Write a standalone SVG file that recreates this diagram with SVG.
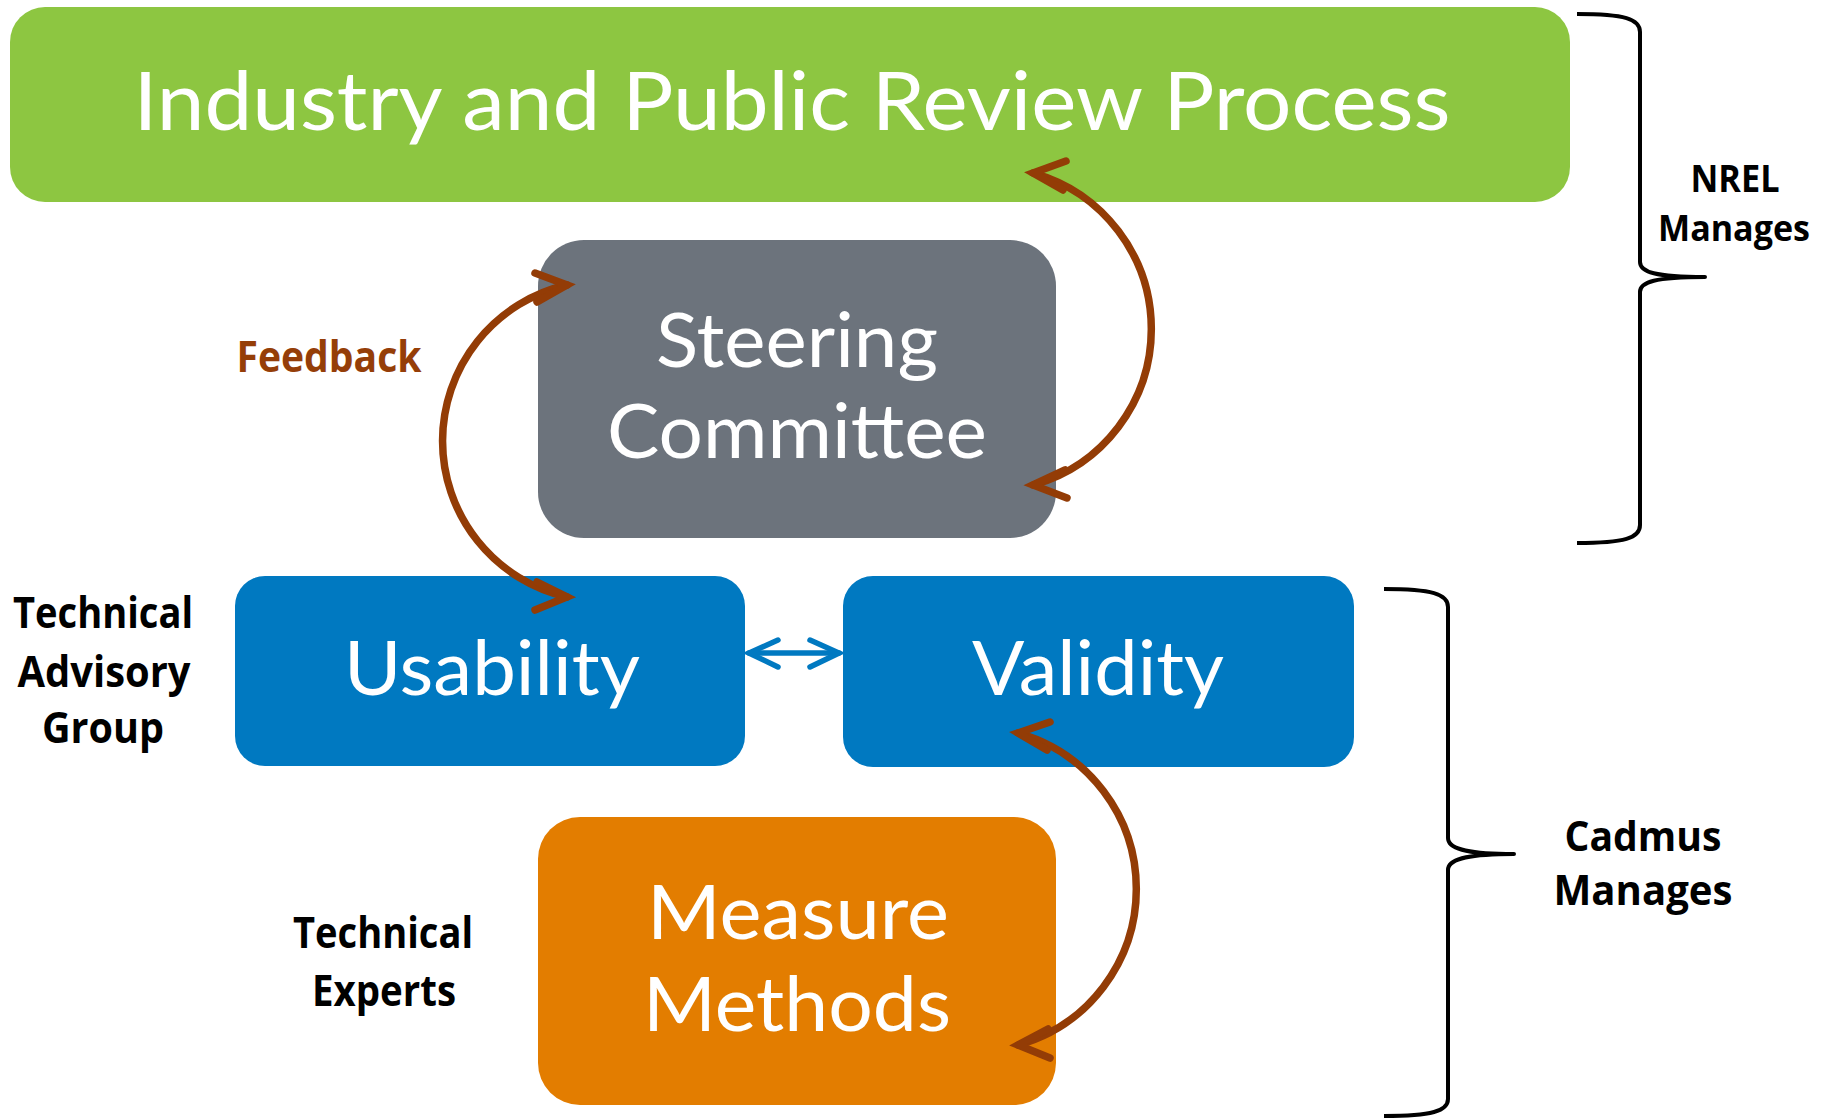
<svg xmlns="http://www.w3.org/2000/svg" width="1823" height="1118" viewBox="0 0 1823 1118">
<style>
.box-t{font-family:Lato,"Open Sans","Liberation Sans",sans-serif;fill:#ffffff;text-anchor:middle}
.lbl{font-family:"Open Sans","Noto Sans","Liberation Sans",sans-serif;font-weight:bold;fill:#000000;text-anchor:middle}
.fb{fill:#953e08}
.arc{fill:none;stroke:#933c06;stroke-width:7.5;stroke-linecap:round}
.head{fill:none;stroke:#933c06;stroke-width:7.5;stroke-linecap:round;stroke-linejoin:miter}
.blue{fill:none;stroke:#0079c1;stroke-width:5.5;stroke-linecap:round;stroke-linejoin:miter}
.brace{fill:none;stroke:#000000;stroke-width:4;stroke-linecap:butt;stroke-linejoin:round}
</style>
<rect width="1823" height="1118" fill="#ffffff"/>
<g id="industry-review">
<rect x="10" y="7" width="1560" height="195" rx="35" ry="35" fill="#8dc641"/>
<text class="box-t" x="792" y="130" font-size="82" textLength="1317" lengthAdjust="spacingAndGlyphs">Industry and Public Review Process</text>
</g>
<g id="steering-committee">
<rect x="538" y="240" width="518" height="298" rx="46" ry="46" fill="#6c737c"/>
<text class="box-t" x="797" y="367" font-size="75" textLength="282" lengthAdjust="spacingAndGlyphs">Steering</text>
<text class="box-t" x="797" y="458" font-size="75" textLength="380" lengthAdjust="spacingAndGlyphs">Committee</text>
</g>
<g id="usability">
<rect x="235" y="576" width="510" height="190" rx="30" ry="30" fill="#0079c1"/>
<text class="box-t" x="492" y="695" font-size="75" textLength="296" lengthAdjust="spacingAndGlyphs">Usability</text>
</g>
<g id="validity">
<rect x="843" y="576" width="511" height="191" rx="30" ry="30" fill="#0079c1"/>
<text class="box-t" x="1098" y="695" font-size="75" textLength="252" lengthAdjust="spacingAndGlyphs">Validity</text>
</g>
<g id="measure-methods">
<rect x="538" y="817" width="518" height="288" rx="42" ry="42" fill="#e37d00"/>
<text class="box-t" x="798" y="939" font-size="75" textLength="302" lengthAdjust="spacingAndGlyphs">Measure</text>
<text class="box-t" x="797" y="1031" font-size="75" textLength="308" lengthAdjust="spacingAndGlyphs">Methods</text>
</g>
<g id="label-feedback">
<text class="lbl fb" x="329" y="372" font-size="43" textLength="185" lengthAdjust="spacingAndGlyphs">Feedback</text>
</g>
<g id="label-tag">
<text class="lbl" x="103" y="628" font-size="43" textLength="180" lengthAdjust="spacingAndGlyphs">Technical</text>
<text class="lbl" x="104" y="687" font-size="43" textLength="173" lengthAdjust="spacingAndGlyphs">Advisory</text>
<text class="lbl" x="103" y="743" font-size="43" textLength="122" lengthAdjust="spacingAndGlyphs">Group</text>
</g>
<g id="label-experts">
<text class="lbl" x="383" y="948" font-size="43" textLength="180" lengthAdjust="spacingAndGlyphs">Technical</text>
<text class="lbl" x="384" y="1006" font-size="43" textLength="144" lengthAdjust="spacingAndGlyphs">Experts</text>
</g>
<g id="nrel-manages">
<path class="brace" d="M1577,14 C1625,14 1640,19 1640,32 L1640,262 C1640,272 1655,277 1705,277 C1655,277 1640,282 1640,292 L1640,525 C1640,538 1625,543 1577,543"/>
<text class="lbl" x="1735" y="192" font-size="37" textLength="89" lengthAdjust="spacingAndGlyphs">NREL</text>
<text class="lbl" x="1734" y="241" font-size="35" textLength="152" lengthAdjust="spacingAndGlyphs">Manages</text>
</g>
<g id="cadmus-manages">
<path class="brace" d="M1384,589 C1432,589 1448,594 1448,607 L1448,838 C1448,848 1463,854 1514,854 C1463,854 1448,860 1448,870 L1448,1099 C1448,1111 1432,1116 1384,1116"/>
<text class="lbl" x="1643" y="851" font-size="42" textLength="157" lengthAdjust="spacingAndGlyphs">Cadmus</text>
<text class="lbl" x="1643" y="905" font-size="42" textLength="179" lengthAdjust="spacingAndGlyphs">Manages</text>
</g>
<g id="connectors">
<path class="arc" d="M1033,173 A162,162 0 0 1 1033,485"/>
<polyline class="head" points="1066,161 1033,173 1063,190"/>
<polyline class="head" points="1065,470 1033,485 1067,498"/>
<path class="arc" d="M567,285 A160,160 0 0 0 567,597"/>
<polyline class="head" points="535,273 567,285 537,302"/>
<polyline class="head" points="537,582 567,597 535,610"/>
<path class="arc" d="M1018,733 A162,162 0 0 1 1018,1045"/>
<polyline class="head" points="1050,722 1018,733 1047,750"/>
<polyline class="head" points="1048,1029 1018,1045 1050,1058"/>
<path class="blue" d="M749,653 H839"/>
<polyline class="blue" points="778,640 749,653 778,667"/>
<polyline class="blue" points="810,640 839,653 810,667"/>
</g>
</svg>
